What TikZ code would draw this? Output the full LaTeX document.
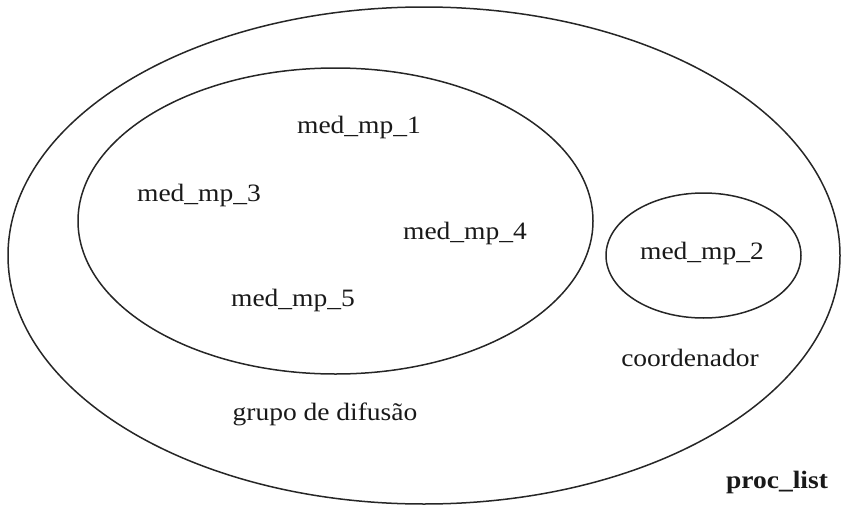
\documentclass[tikz,border=0pt]{standalone}
\usepackage{fontspec}
\setmainfont{Liberation Serif}[FakeStretch=1.1]
\usetikzlibrary{shapes.geometric}
\begin{document}
\begin{tikzpicture}[x=1pt,y=-1pt,
  ring/.style={draw=black!85,line width=1.5pt,ellipse,inner sep=0pt,fill=none},
  lbl/.style={inner sep=0pt,font=\fontsize{25}{29}\selectfont,text=black!90},
  blbl/.style={lbl,font=\fontsize{25}{29}\selectfont\bfseries}]
\useasboundingbox (0,0) rectangle (841,506);
\node[ring,minimum width=832pt,minimum height=497pt] (outer) at (424,255.5) {};
\node[ring,minimum width=515pt,minimum height=306pt] (inner) at (335.5,221) {};
\node[ring,minimum width=195pt,minimum height=125pt] (small) at (703.5,255.5) {};
\node[lbl] (m1) at (359,127) {med\_mp\_1};
\node[lbl] (m3) at (199,195) {med\_mp\_3};
\node[lbl] (m4) at (465,233) {med\_mp\_4};
\node[lbl] (m5) at (293,300) {med\_mp\_5};
\node[lbl] (m2) at (702,253) {med\_mp\_2};
\node[lbl] (coord) at (690,358) {coordenador};
\node[lbl] (grupo) at (325,414) {grupo de difusão};
\node[blbl] (proc) at (777,482) {proc\_list};
\end{tikzpicture}
\end{document}
